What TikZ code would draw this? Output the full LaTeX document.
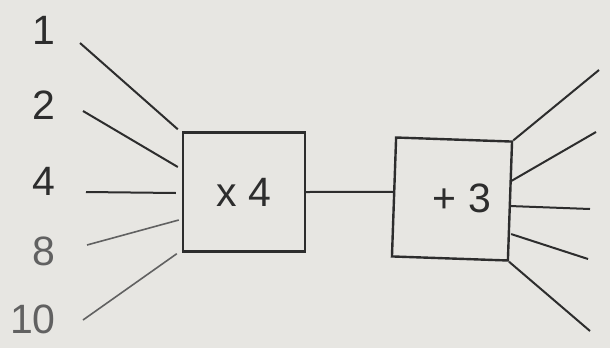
\documentclass[tikz,border=0pt]{standalone}
\usepackage{fontspec}
\setmainfont{Liberation Sans}
\definecolor{paper}{RGB}{231,230,226}
\definecolor{ink}{RGB}{45,45,45}
\newcommand{\bigdigits}{\fontsize{41}{48}\selectfont}
\begin{document}
\begin{tikzpicture}[x=1pt,y=-1pt,
  wire/.style={ink, line width=2pt},
  faintwire/.style={ink!75, line width=1.6pt},
  numlabel/.style={anchor=east, inner sep=0pt, text=ink, font=\bigdigits},
  machine/.style={draw=ink, line width=2.4pt, minimum width=122pt, minimum height=119pt}]
  \fill[paper] (0,0) rectangle (610,348);
  \useasboundingbox (0,0) rectangle (610,348);
  % input numbers
  \node[numlabel] (in1) at (56,30) {1};
  \node[numlabel] (in2) at (56,105) {2};
  \node[numlabel] (in4) at (56,181) {4};
  \node[numlabel, text=ink!75] (in8) at (56,251) {8};
  \node[numlabel, text=ink!75] (in10) at (56,319) {10};
  % the two machines
  \node[machine, font=\bigdigits, text=ink] (times) at (244,192) {x 4};
  \node[machine, minimum width=116pt, rotate=-2] (plus) at (452,199) {};
  \node[inner sep=0pt, font=\bigdigits, text=ink] (plusop) at (462,198) {+ 3};
  % free ends on the right
  \coordinate (out1) at (599,70);
  \coordinate (out2) at (596,132);
  \coordinate (out3) at (590,209);
  \coordinate (out4) at (588,259);
  \coordinate (out5) at (590,331);
  % wires into the first machine
  \draw[wire] ([shift={(24,13)}]in1.east) -- ([shift={(-4,-2)}]times.north west);
  \draw[wire] ([shift={(27,6)}]in2.east) -- ([shift={(-4,-25)}]times.west);
  \draw[wire] ([shift={(30,11)}]in4.east) -- ([shift={(-6,1)}]times.west);
  \draw[faintwire] ([shift={(31,-6)}]in8.east) -- ([shift={(-3,28)}]times.west);
  \draw[faintwire] ([shift={(27,1)}]in10.east) -- ([shift={(-5,1)}]times.south west);
  % between the machines
  \draw[wire] (times.east) -- ([yshift=5pt]plus.west);
  % wires out of the second machine
  \draw[wire] (plus.north east) -- (out1);
  \draw[wire] ([yshift=20pt]plus.east) -- (out2);
  \draw[wire] ([yshift=-5pt]plus.east) -- (out3);
  \draw[wire] ([yshift=-33pt]plus.east) -- (out4);
  \draw[wire] (plus.south east) -- (out5);
\end{tikzpicture}
\end{document}
